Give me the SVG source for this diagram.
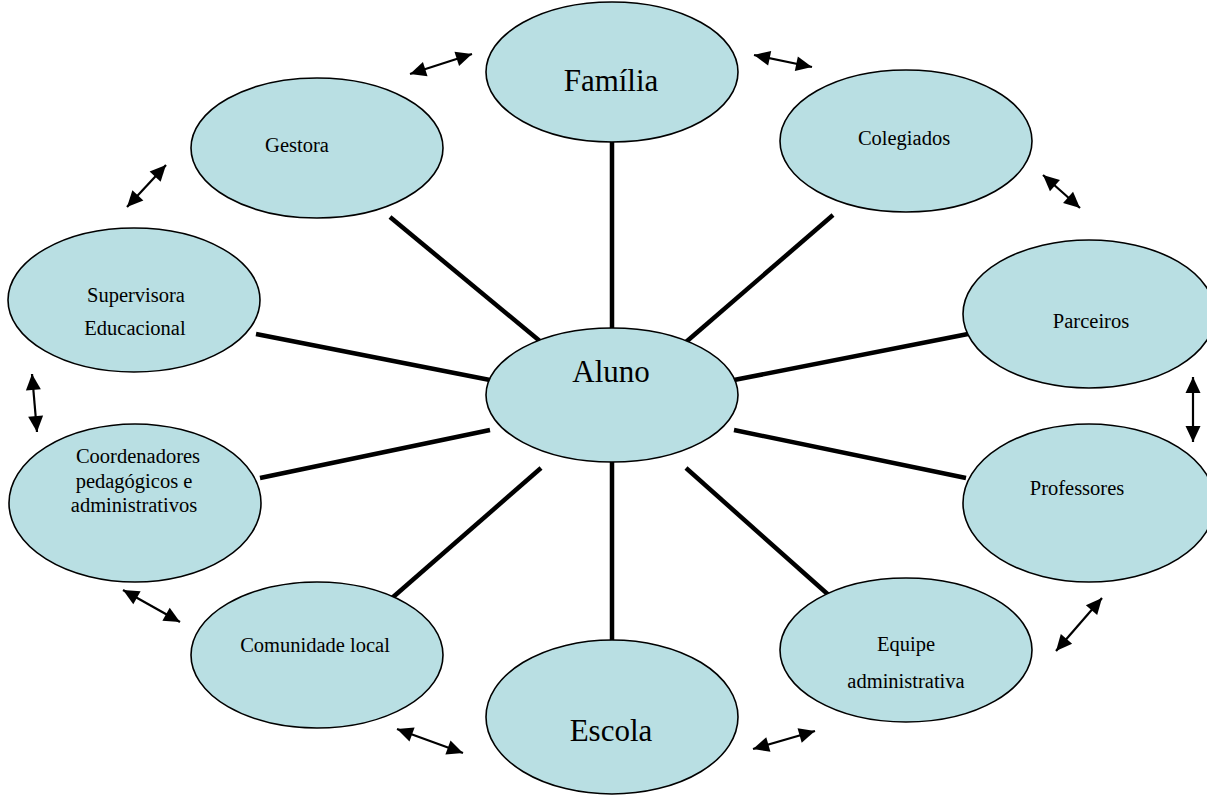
<svg xmlns="http://www.w3.org/2000/svg" width="1207" height="795" viewBox="0 0 1207 795">
<style>
.node{fill:#b9dfe3;stroke:#000;stroke-width:1.6}
.spoke{stroke:#000;stroke-width:4.5;fill:none}
.arr{stroke:#000;stroke-width:2.2;fill:none;marker-start:url(#ah);marker-end:url(#ah)}
.big{font-family:"Liberation Serif","Times New Roman",serif;font-size:31px;fill:#000;text-anchor:middle}
.sm{font-family:"Liberation Serif","Times New Roman",serif;font-size:20.5px;fill:#000;text-anchor:middle}
</style>
<defs>
<marker id="ah" markerUnits="userSpaceOnUse" markerWidth="18" markerHeight="16" refX="16" refY="8" orient="auto-start-reverse" overflow="visible">
<path d="M0,0.5 L16,8 L0,15.5 Z" fill="#000"/>
</marker>
</defs>
<rect width="1207" height="795" fill="#fff"/>
<g id="connectors">
<line class="spoke" x1="612" y1="142" x2="612" y2="329"/>
<line class="spoke" x1="390" y1="217" x2="541" y2="342"/>
<line class="spoke" x1="833" y1="215" x2="686" y2="342"/>
<line class="spoke" x1="256" y1="334" x2="490" y2="380"/>
<line class="spoke" x1="968" y1="334" x2="734" y2="380"/>
<line class="spoke" x1="260" y1="478" x2="490" y2="430"/>
<line class="spoke" x1="966" y1="478" x2="734" y2="430"/>
<line class="spoke" x1="392" y1="598" x2="541" y2="468"/>
<line class="spoke" x1="832" y1="598" x2="686" y2="468"/>
<line class="spoke" x1="612" y1="461" x2="612" y2="642"/>
<line class="arr" x1="410" y1="74" x2="472" y2="54"/>
<line class="arr" x1="754" y1="55" x2="812" y2="67"/>
<line class="arr" x1="166" y1="165" x2="127" y2="207"/>
<line class="arr" x1="32" y1="374" x2="37" y2="432"/>
<line class="arr" x1="1043" y1="175" x2="1080" y2="208"/>
<line class="arr" x1="1193" y1="377" x2="1193" y2="442"/>
<line class="arr" x1="123" y1="590" x2="180" y2="622"/>
<line class="arr" x1="1102" y1="598" x2="1056" y2="651"/>
<line class="arr" x1="397" y1="729" x2="463" y2="753"/>
<line class="arr" x1="753" y1="749" x2="815" y2="731"/>
</g>
<g id="familia"><ellipse class="node" cx="612" cy="72" rx="126" ry="70"/><text class="big" x="611" y="91">Família</text></g>
<g id="gestora"><ellipse class="node" cx="317" cy="148" rx="126" ry="70"/><text class="sm" x="297" y="152">Gestora</text></g>
<g id="colegiados"><ellipse class="node" cx="906" cy="141" rx="126" ry="71"/><text class="sm" x="904" y="145">Colegiados</text></g>
<g id="supervisora"><ellipse class="node" cx="134" cy="300" rx="126" ry="72"/><text class="sm" x="136" y="302">Supervisora</text><text class="sm" x="135" y="335">Educacional</text></g>
<g id="parceiros"><ellipse class="node" cx="1089" cy="314" rx="126" ry="74"/><text class="sm" x="1091" y="328">Parceiros</text></g>
<g id="aluno"><ellipse class="node" cx="612" cy="395" rx="126" ry="67"/><text class="big" x="611" y="382">Aluno</text></g>
<g id="coordenadores"><ellipse class="node" cx="135" cy="503" rx="126" ry="79"/><text class="sm" x="138" y="463">Coordenadores</text><text class="sm" x="134" y="488">pedagógicos e</text><text class="sm" x="134" y="512">administrativos</text></g>
<g id="professores"><ellipse class="node" cx="1089" cy="503" rx="126" ry="79"/><text class="sm" x="1077" y="495">Professores</text></g>
<g id="comunidade"><ellipse class="node" cx="317" cy="655" rx="126" ry="73"/><text class="sm" x="315" y="652">Comunidade local</text></g>
<g id="equipe"><ellipse class="node" cx="906" cy="650" rx="126" ry="72"/><text class="sm" x="906" y="651">Equipe</text><text class="sm" x="906" y="688">administrativa</text></g>
<g id="escola"><ellipse class="node" cx="612" cy="717" rx="126" ry="77"/><text class="big" x="611" y="741">Escola</text></g>
</svg>
